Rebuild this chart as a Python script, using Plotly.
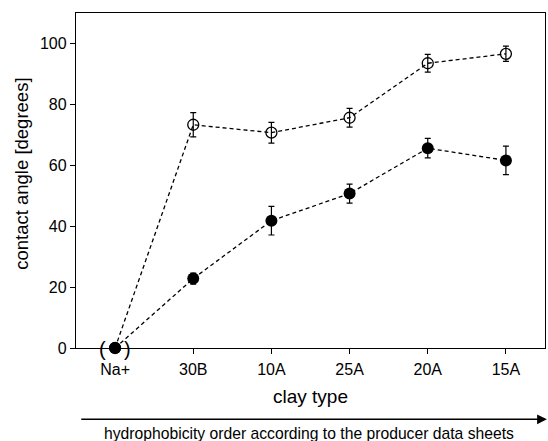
import plotly.graph_objects as go

categories = ["Na+", "30B", "10A", "25A", "20A", "15A"]
open_values = [0, 73.3, 70.7, 75.6, 93.5, 96.6]
open_errors = [0, 4.0, 3.4, 3.1, 2.9, 2.5]
filled_values = [0, 22.8, 41.8, 50.7, 65.6, 61.6]
filled_errors = [0, 1.8, 4.7, 3.1, 3.2, 4.7]
y_ticks = [0, 20, 40, 60, 80, 100]

FONT = "Liberation Sans, Arial, sans-serif"
xi = list(range(len(categories)))

fig = go.Figure()
fig.add_trace(go.Scatter(
    x=xi, y=open_values,
    error_y=dict(type="data", array=open_errors, visible=True, color="black", thickness=1.2, width=3),
    mode="lines+markers",
    line=dict(color="black", width=1.3, dash="4px,3px"),
    marker=dict(symbol="circle-open", size=11, color="black", line=dict(width=1.3, color="black")),
    cliponaxis=False, showlegend=False,
))
fig.add_trace(go.Scatter(
    x=xi, y=filled_values,
    error_y=dict(type="data", array=filled_errors, visible=True, color="black", thickness=1.2, width=3),
    mode="lines+markers",
    line=dict(color="black", width=1.3, dash="4px,3px"),
    marker=dict(symbol="circle", size=12, color="black"),
    cliponaxis=False, showlegend=False,
))

# parentheses around Na+ point
fig.add_annotation(x=xi[0], y=filled_values[0], text="(", showarrow=False, xshift=-12.5, yshift=-1,
                   font=dict(family=FONT, size=20, color="black"))
fig.add_annotation(x=xi[0], y=filled_values[0], text=")", showarrow=False, xshift=12, yshift=-1,
                   font=dict(family=FONT, size=20, color="black"))

# y-axis title
fig.add_annotation(xref="x domain", yref="y domain", x=-0.118, y=0.519,
                   xanchor="center", yanchor="middle", textangle=-90,
                   text="contact angle [degrees]", showarrow=False,
                   font=dict(family=FONT, size=18.5, color="black"))

# hydrophobicity arrow
fig.add_annotation(xref="x domain", yref="y domain", axref="x domain", ayref="y domain",
                   x=1.004, y=-0.213, ax=0.008, ay=-0.213, text="",
                   showarrow=True, arrowhead=2, arrowsize=1.3, arrowwidth=1.5, arrowcolor="black")
fig.add_annotation(xref="paper", yref="paper", x=0.497, y=-0.254, yanchor="middle",
                   text="hydrophobicity order according to the producer data sheets",
                   showarrow=False, font=dict(family=FONT, size=15.7, color="black"))

fig.update_layout(
    width=548, height=441,
    margin=dict(l=75.5, r=3, t=13, b=93),
    paper_bgcolor="white", plot_bgcolor="white",
    font=dict(family=FONT, color="black"),
    xaxis=dict(
        range=[-0.5, 5.5], tickmode="array", tickvals=xi, ticktext=categories,
        showline=True, linecolor="black", linewidth=1.3, mirror=True,
        ticks="outside", ticklen=5, tickwidth=1.2, tickcolor="black",
        ticklabelstandoff=2,
        showgrid=False, zeroline=False,
        tickfont=dict(family=FONT, size=16),
        title=dict(text="clay type", font=dict(family=FONT, size=19), standoff=12),
    ),
    yaxis=dict(
        range=[0, 110], tickmode="array", tickvals=y_ticks,
        showline=True, linecolor="black", linewidth=1.3, mirror=True,
        ticks="outside", ticklen=5, tickwidth=1.2, tickcolor="black",
        showgrid=False, zeroline=False,
        tickfont=dict(family=FONT, size=16),
    ),
)

fig.write_html("out.html")
